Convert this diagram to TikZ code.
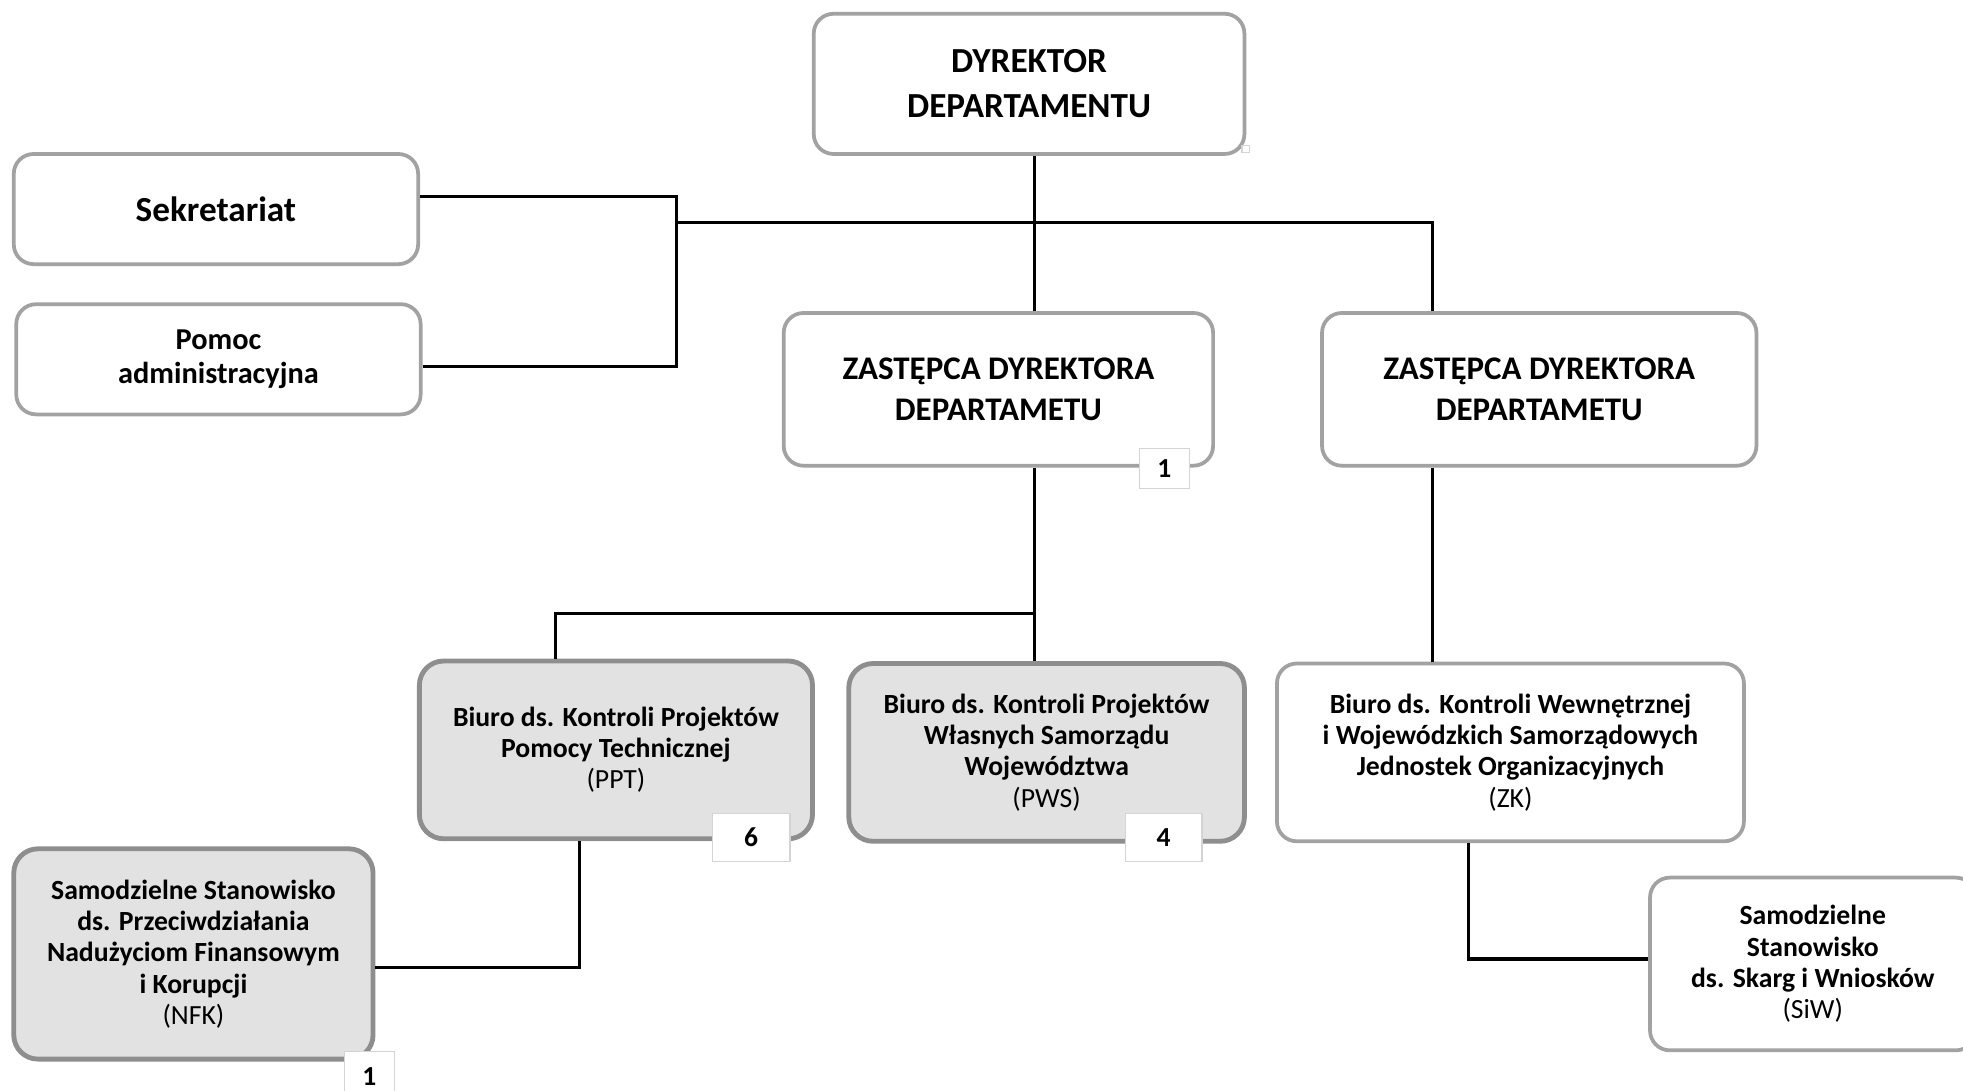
\documentclass[tikz,border=0pt]{standalone}
\usepackage{fontspec}
\setmainfont{Carlito}
\definecolor{bordw}{HTML}{A2A2A2}
\definecolor{bordg}{HTML}{8E8E8E}
\definecolor{fillg}{HTML}{E2E2E2}
\definecolor{bordb}{HTML}{D4D4D4}
\tikzset{
  wbox/.style={draw=bordw, line width=1.7pt, rounded corners=9pt, fill=white, align=center, inner sep=0pt},
  gbox/.style={draw=bordg, line width=2.2pt, rounded corners=11pt, fill=fillg, align=center, inner sep=0pt},
  badge/.style={draw=bordb, line width=0.6pt, fill=white, align=center, inner sep=0pt, font=\bfseries\fontsize{12.5}{14}\selectfont},
  conn/.style={draw=black, line width=1.4pt},
  fbig/.style={font=\bfseries\fontsize{16}{20.4}\selectfont},
  fzd/.style={font=\bfseries\fontsize{15}{18.7}\selectfont},
  fpom/.style={font=\bfseries\fontsize{13.8}{15.6}\selectfont},
  fsmall/.style={font=\bfseries\fontsize{12.6}{14.2}\selectfont},
}
\newcommand\obox[7]{\node[#6, minimum width={(#4-#2)*0.02cm}, minimum height={(#5-#3)*0.02cm}] (#1) at ({(#2+#4)/2},{(#3+#5)/2}) {#7};}
\begin{document}
\begin{tikzpicture}[x=0.02cm,y=-0.02cm]
\useasboundingbox (0,0) rectangle (1568,870.7);
\begin{scope}
\clip (0,0) rectangle (1568,870.7);
% boxes
\obox{dyr}{650}{11}{994}{123}{wbox,fbig}{DYREKTOR\\DEPARTAMENTU}
\obox{sek}{11}{123}{334}{211}{wbox,fbig}{Sekretariat}
\obox{pom}{13}{243}{336}{331}{wbox,fpom}{Pomoc\\administracyjna}
\obox{zd1}{626}{250}{969}{372}{wbox,fzd}{ZASTĘPCA DYREKTORA\\DEPARTAMETU}
\obox{zd2}{1056}{250}{1403}{372}{wbox,fzd}{ZASTĘPCA DYREKTORA\\DEPARTAMETU}
\obox{ppt}{335}{528}{649}{670}{gbox,fsmall}{Biuro ds. Kontroli Projektów\\Pomocy Technicznej\\\mdseries (PPT)}
\obox{pws}{678}{530}{994}{672}{gbox,fsmall}{Biuro ds. Kontroli Projektów\\Własnych Samorządu\\Województwa\\\mdseries (PWS)}
\obox{zk}{1020}{530}{1393}{672}{wbox,fsmall}{Biuro ds. Kontroli Wewnętrznej\\i Wojewódzkich Samorządowych\\Jednostek Organizacyjnych\\\mdseries (ZK)}
\obox{nfk}{11}{678}{298}{846}{gbox,fsmall}{Samodzielne Stanowisko\\ds. Przeciwdziałania\\Nadużyciom Finansowym\\i Korupcji\\\mdseries (NFK)}
\obox{siw}{1318}{701}{1578}{839}{wbox,fsmall}{Samodzielne\\Stanowisko\\ds. Skarg i Wniosków\\\mdseries (SiW)}
% badges
\obox{b1}{910}{358}{950}{390}{badge}{1}
\obox{b6}{569}{650}{631}{688}{badge}{6}
\obox{b4}{899}{650}{960}{688}{badge}{4}
\obox{b1n}{275}{840}{315}{880}{badge}{1}
\obox{mark}{992}{116}{998}{122}{badge}{}
% connector junctions
\coordinate (jl) at (540,178);
\coordinate (jm) at (826,178);
\coordinate (jr) at (1144,178);
\coordinate (bs) at (540,157);
\coordinate (bp) at (540,293);
\coordinate (kl) at (444,490);
\coordinate (km) at (826,490);
\coordinate (pd) at (463,773);
\coordinate (zdn) at (1173,766);
% connectors
\draw[conn] (dyr.south -| jm) -- (zd1.north -| jm);
\draw[conn] (jl) -- (jr) -- (zd2.north -| jr);
\draw[conn] (bs -| sek.east) -- (bs) -- (bp) -- (bp -| pom.east);
\draw[conn] (zd1.south -| km) -- (pws.north -| km);
\draw[conn] (km) -- (kl) -- (ppt.north -| kl);
\draw[conn] (zd2.south -| jr) -- (zk.north -| jr);
\draw[conn] (ppt.south -| pd) -- (pd) -- (pd -| nfk.east);
\draw[conn] (zk.south -| zdn) -- (zdn) -- (zdn -| siw.west);
\end{scope}
\end{tikzpicture}
\end{document}
